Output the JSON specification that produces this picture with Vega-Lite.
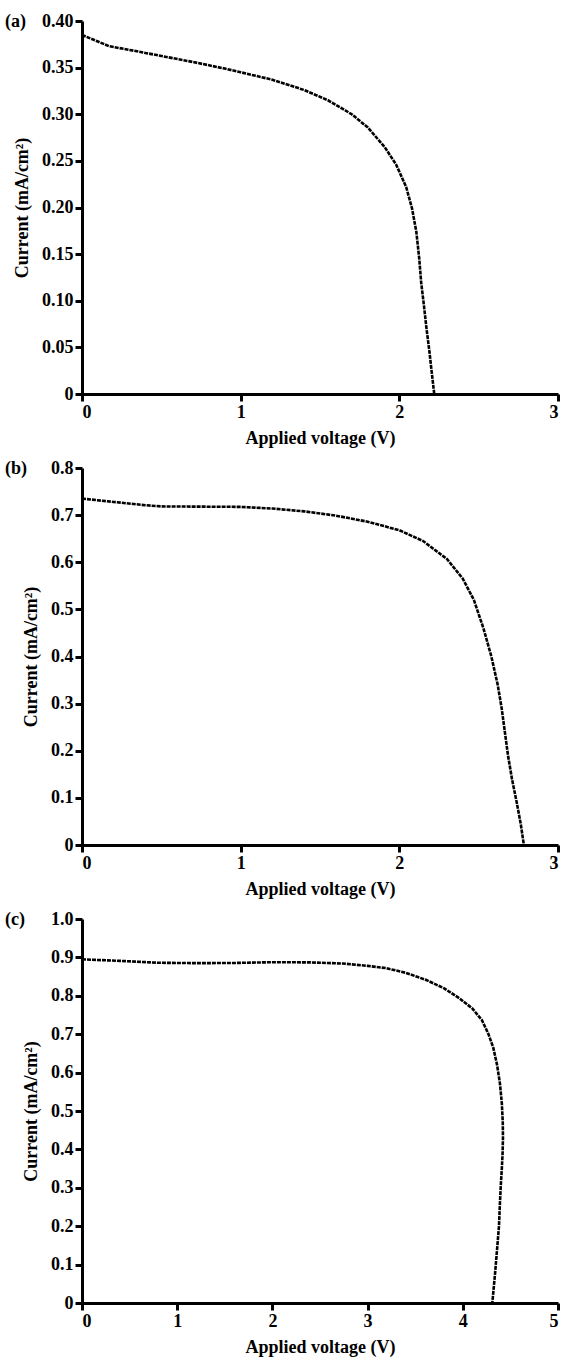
{
  "$schema": "https://vega.github.io/schema/vega-lite/v6.json",
  "padding": {"left": 5, "top": 12, "right": 5, "bottom": 2},
  "spacing": 12,
  "config": {
    "view": {"stroke": null},
    "font": "Liberation Serif",
    "axis": {
      "grid": false,
      "domainColor": "black",
      "domainWidth": 3,
      "tickColor": "black",
      "tickWidth": 3,
      "tickSize": 7,
      "labelColor": "black",
      "labelFont": "Liberation Serif",
      "labelFontWeight": "bold",
      "labelFontSize": 18,
      "labelPadding": 2,
      "titleColor": "black",
      "titleFont": "Liberation Serif",
      "titleFontWeight": "bold",
      "titleFontSize": 18
    },
    "axisX": {"titlePadding": 8, "labelAngle": 0},
    "axisY": {"titlePadding": 10},
    "title": {"font": "Liberation Serif", "fontSize": 18, "fontWeight": "bold", "color": "black"}
  },
  "datasets": {
    "a": [
      {"V": 0, "I": 0.385}, {"V": 0.1, "I": 0.378}, {"V": 0.17, "I": 0.373}, {"V": 0.3, "I": 0.369},
      {"V": 0.47, "I": 0.3635}, {"V": 0.7, "I": 0.356}, {"V": 0.9, "I": 0.349}, {"V": 1.0, "I": 0.345},
      {"V": 1.2, "I": 0.337}, {"V": 1.4, "I": 0.326}, {"V": 1.55, "I": 0.315}, {"V": 1.7, "I": 0.3},
      {"V": 1.8, "I": 0.286}, {"V": 1.907, "I": 0.265}, {"V": 1.98, "I": 0.246}, {"V": 2.043, "I": 0.222},
      {"V": 2.08, "I": 0.199}, {"V": 2.107, "I": 0.174}, {"V": 2.125, "I": 0.146}, {"V": 2.138, "I": 0.119},
      {"V": 2.155, "I": 0.095}, {"V": 2.17, "I": 0.072}, {"V": 2.19, "I": 0.045}, {"V": 2.201, "I": 0.028},
      {"V": 2.22, "I": 0}
    ],
    "b": [
      {"V": 0, "I": 0.735}, {"V": 0.2, "I": 0.728}, {"V": 0.4, "I": 0.721}, {"V": 0.5, "I": 0.7185},
      {"V": 0.75, "I": 0.718}, {"V": 1.0, "I": 0.7175}, {"V": 1.2, "I": 0.714}, {"V": 1.4, "I": 0.708},
      {"V": 1.6, "I": 0.699}, {"V": 1.8, "I": 0.686}, {"V": 2.0, "I": 0.668}, {"V": 2.15, "I": 0.645},
      {"V": 2.3, "I": 0.607}, {"V": 2.4, "I": 0.565}, {"V": 2.47, "I": 0.52}, {"V": 2.53, "I": 0.46},
      {"V": 2.58, "I": 0.4}, {"V": 2.62, "I": 0.34}, {"V": 2.645, "I": 0.29}, {"V": 2.665, "I": 0.24},
      {"V": 2.685, "I": 0.19}, {"V": 2.71, "I": 0.14}, {"V": 2.74, "I": 0.09}, {"V": 2.765, "I": 0.045},
      {"V": 2.785, "I": 0}
    ],
    "c": [
      {"V": 0, "I": 0.895}, {"V": 0.4, "I": 0.891}, {"V": 0.8, "I": 0.886}, {"V": 1.2, "I": 0.885},
      {"V": 1.6, "I": 0.8855}, {"V": 2.0, "I": 0.8875}, {"V": 2.4, "I": 0.887}, {"V": 2.742, "I": 0.884},
      {"V": 3.0, "I": 0.878}, {"V": 3.196, "I": 0.872}, {"V": 3.4, "I": 0.86}, {"V": 3.617, "I": 0.841},
      {"V": 3.8, "I": 0.82}, {"V": 3.967, "I": 0.793}, {"V": 4.1, "I": 0.767}, {"V": 4.2, "I": 0.737},
      {"V": 4.27, "I": 0.70}, {"V": 4.32, "I": 0.665}, {"V": 4.36, "I": 0.62}, {"V": 4.39, "I": 0.572},
      {"V": 4.41, "I": 0.52}, {"V": 4.42, "I": 0.47}, {"V": 4.422, "I": 0.43}, {"V": 4.418, "I": 0.39},
      {"V": 4.41, "I": 0.35}, {"V": 4.4, "I": 0.31}, {"V": 4.39, "I": 0.26}, {"V": 4.38, "I": 0.2},
      {"V": 4.36, "I": 0.14}, {"V": 4.34, "I": 0.08}, {"V": 4.31, "I": 0}
    ]
  },
  "vconcat": [
    {
      "width": 476, "height": 373,
      "title": {"text": "(a)", "anchor": "start", "frame": "group", "orient": "top", "baseline": "middle", "offset": -28, "dx": -77},
      "data": {"name": "a"},
      "mark": {"type": "line", "color": "black", "strokeWidth": 2.6, "strokeDash": [4, 1]},
      "encoding": {
        "x": {"field": "V", "type": "quantitative", "scale": {"domain": [0, 3], "nice": false}, "axis": {"values": [0, 1, 2, 3], "title": "Applied voltage (V)"}},
        "y": {"field": "I", "type": "quantitative", "scale": {"domain": [0, 0.4], "nice": false}, "axis": {"values": [0, 0.05, 0.1, 0.15, 0.2, 0.25, 0.3, 0.35, 0.4], "labelExpr": "datum.value == 0 ? '0' : format(datum.value, '.2f')", "title": "Current (mA/cm²)"}}
      }
    },
    {
      "width": 476, "height": 377,
      "title": {"text": "(b)", "anchor": "start", "frame": "group", "orient": "top", "baseline": "middle", "offset": -28, "dx": -77},
      "data": {"name": "b"},
      "mark": {"type": "line", "color": "black", "strokeWidth": 2.6, "strokeDash": [4, 1]},
      "encoding": {
        "x": {"field": "V", "type": "quantitative", "scale": {"domain": [0, 3], "nice": false}, "axis": {"values": [0, 1, 2, 3], "title": "Applied voltage (V)"}},
        "y": {"field": "I", "type": "quantitative", "scale": {"domain": [0, 0.8], "nice": false}, "axis": {"values": [0, 0.1, 0.2, 0.3, 0.4, 0.5, 0.6, 0.7, 0.8], "labelExpr": "datum.value == 0 ? '0' : format(datum.value, '.1f')", "title": "Current (mA/cm²)"}}
      }
    },
    {
      "width": 476, "height": 384,
      "title": {"text": "(c)", "anchor": "start", "frame": "group", "orient": "top", "baseline": "middle", "offset": -28, "dx": -77},
      "data": {"name": "c"},
      "mark": {"type": "line", "color": "black", "strokeWidth": 2.6, "strokeDash": [4, 1]},
      "encoding": {
        "x": {"field": "V", "type": "quantitative", "scale": {"domain": [0, 5], "nice": false}, "axis": {"values": [0, 1, 2, 3, 4, 5], "title": "Applied voltage (V)"}},
        "y": {"field": "I", "type": "quantitative", "scale": {"domain": [0, 1], "nice": false}, "axis": {"values": [0, 0.1, 0.2, 0.3, 0.4, 0.5, 0.6, 0.7, 0.8, 0.9, 1.0], "labelExpr": "datum.value == 0 ? '0' : format(datum.value, '.1f')", "title": "Current (mA/cm²)"}},
        "order": {"value": null}
      }
    }
  ]
}
